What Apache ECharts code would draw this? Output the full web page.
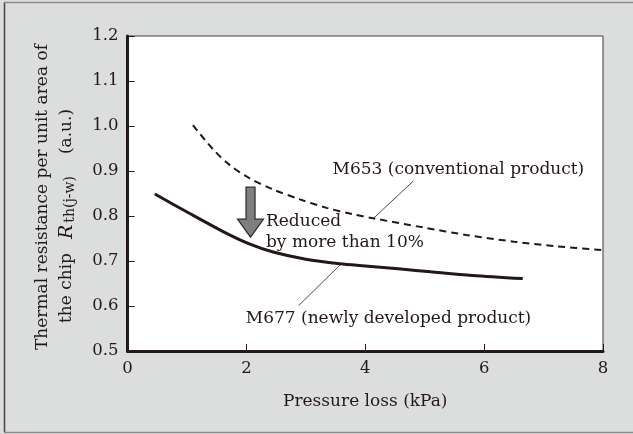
<!DOCTYPE html>
<html><head><meta charset="utf-8">
<script src="https://cdn.jsdelivr.net/npm/echarts@6/dist/echarts.min.js"></script>
<style>html,body{margin:0;padding:0;background:#dcdddd;}#c{width:633px;height:434px;}</style>
</head><body><div id="c"></div>
<script>
// Data
var m677 = [[0.46,0.849],[1.04,0.806],[1.6,0.766],[2.05,0.738],[2.45,0.720],[3.0,0.704],[3.57,0.694],[4.0,0.689],[4.6,0.682],[5.1,0.676],[5.8,0.668],[6.65,0.661]];
var m653 = [[1.1,1.002],[1.44,0.948],[1.72,0.913],[2.05,0.884],[2.45,0.859],[2.9,0.837],[3.35,0.818],[3.79,0.804],[4.13,0.795],[5.0,0.774],[5.7,0.758],[6.5,0.743],[7.2,0.733],[8.0,0.724]];
var xTicks = [0,2,4,6,8];
var yTicks = [0.5,0.6,0.7,0.8,0.9,1.0,1.1,1.2];
// annotation anchors (data coords)
var labelM653 = {text:'M653 (conventional product)', at:[3.45,0.904]};
var leaderM653 = [[4.81,0.878],[4.14,0.795]];
var labelM677 = {text:'M677 (newly developed product)', at:[1.99,0.572]};
var leaderM677 = [[2.88,0.601],[3.59,0.693]];
var labelReduced = {lines:['Reduced','by more than 10%'], at:[[2.33,0.787],[2.33,0.741]]};
var arrowPts = {x:2.07, top:0.864, neck:0.793, tip:0.753};

var FONT = 'DejaVu Serif';
var TC = '#231815';
var FS = 17;
var chart = echarts.init(document.getElementById('c'));
chart.setOption({
  backgroundColor:'#dcdddd',
  animation:false,
  grid:{left:127.5,right:30,top:36,bottom:83,show:true,backgroundColor:'#fff',borderColor:'#3a3a3a',borderWidth:1},
  xAxis:{type:'value',min:0,max:8,interval:2,
    axisLine:{lineStyle:{color:TC,width:3}},
    axisTick:{inside:true,length:7,lineStyle:{color:TC,width:1}},
    splitLine:{show:false},
    axisLabel:{fontFamily:FONT,fontSize:16.5,color:TC,margin:9,formatter:function(v){return xTicks.indexOf(v)>=0?String(v):'';}},
    name:'Pressure loss (kPa)',nameLocation:'middle',nameGap:42,
    nameTextStyle:{fontFamily:FONT,fontSize:FS,color:TC}
  },
  yAxis:{type:'value',min:0.5,max:1.2,interval:0.1,
    axisLine:{lineStyle:{color:TC,width:3}},
    axisTick:{inside:true,length:7,lineStyle:{color:TC,width:1}},
    splitLine:{show:false},
    axisLabel:{fontFamily:FONT,fontSize:16.5,color:TC,margin:9,formatter:function(v){return v.toFixed(1);}}
  },
  series:[
    {type:'line',data:m677,smooth:0.3,symbol:'none',lineStyle:{color:'#231815',width:3}},
    {type:'line',data:m653,smooth:0.3,symbol:'none',lineStyle:{color:'#231815',width:2,type:[7,5]}}
  ]
});

function px(p){return chart.convertToPixel({gridIndex:0},p);}
var g = [];
// outer frame
g.push({type:'line',shape:{x1:4.5,y1:2,x2:4.5,y2:432},style:{stroke:'#444',lineWidth:1.5}});
g.push({type:'line',shape:{x1:4,y1:2.5,x2:633,y2:2.5},style:{stroke:'#8c8c8c',lineWidth:1.5}});
g.push({type:'line',shape:{x1:4,y1:432.5,x2:633,y2:432.5},style:{stroke:'#8c8c8c',lineWidth:1.5}});
// y axis title (rotated)
g.push({type:'text',x:43,y:197,rotation:Math.PI/2,style:{text:'Thermal resistance per unit area of',fontFamily:FONT,fontSize:FS,fill:TC,align:'center',verticalAlign:'middle'}});
g.push({type:'text',x:67,y:216,rotation:Math.PI/2,style:{text:'the chip{i|R}{s|th(j-w)}(a.u.)',fontFamily:FONT,fontSize:FS,fill:TC,align:'center',verticalAlign:'middle',
  rich:{i:{fontFamily:FONT,fontStyle:'italic',fontSize:FS+2,fill:TC,padding:[0,2,0,14]},s:{fontFamily:FONT,fontSize:14,fill:TC,padding:[7,22,0,0]}}}});
// labels
var p;
p = px(labelM653.at);
g.push({type:'text',x:p[0],y:p[1],style:{text:labelM653.text,fontFamily:FONT,fontSize:FS,fill:TC,align:'left',verticalAlign:'middle'}});
p = px(labelM677.at);
g.push({type:'text',x:p[0],y:p[1],style:{text:labelM677.text,fontFamily:FONT,fontSize:FS,fill:TC,align:'left',verticalAlign:'middle'}});
labelReduced.lines.forEach(function(t,i){
  var q = px(labelReduced.at[i]);
  g.push({type:'text',x:q[0],y:q[1],style:{text:t,fontFamily:FONT,fontSize:FS,fill:TC,align:'left',verticalAlign:'middle'}});
});
[leaderM653,leaderM677].forEach(function(l){
  var a=px(l[0]),b=px(l[1]);
  g.push({type:'line',shape:{x1:a[0],y1:a[1],x2:b[0],y2:b[1]},style:{stroke:TC,lineWidth:0.8}});
});
// arrow
var t=px([arrowPts.x,arrowPts.top]), n=px([arrowPts.x,arrowPts.neck]), tp=px([arrowPts.x,arrowPts.tip]);
var sw=4.5, hw=13;
g.push({type:'polygon',shape:{points:[[t[0]-sw,t[1]],[t[0]+sw,t[1]],[t[0]+sw,n[1]],[t[0]+hw,n[1]],[tp[0],tp[1]],[t[0]-hw,n[1]],[t[0]-sw,n[1]]]},
  style:{fill:'#7f7f7f',stroke:'#2a2a2a',lineWidth:1.2}});
chart.setOption({graphic:g});
</script></body></html>
